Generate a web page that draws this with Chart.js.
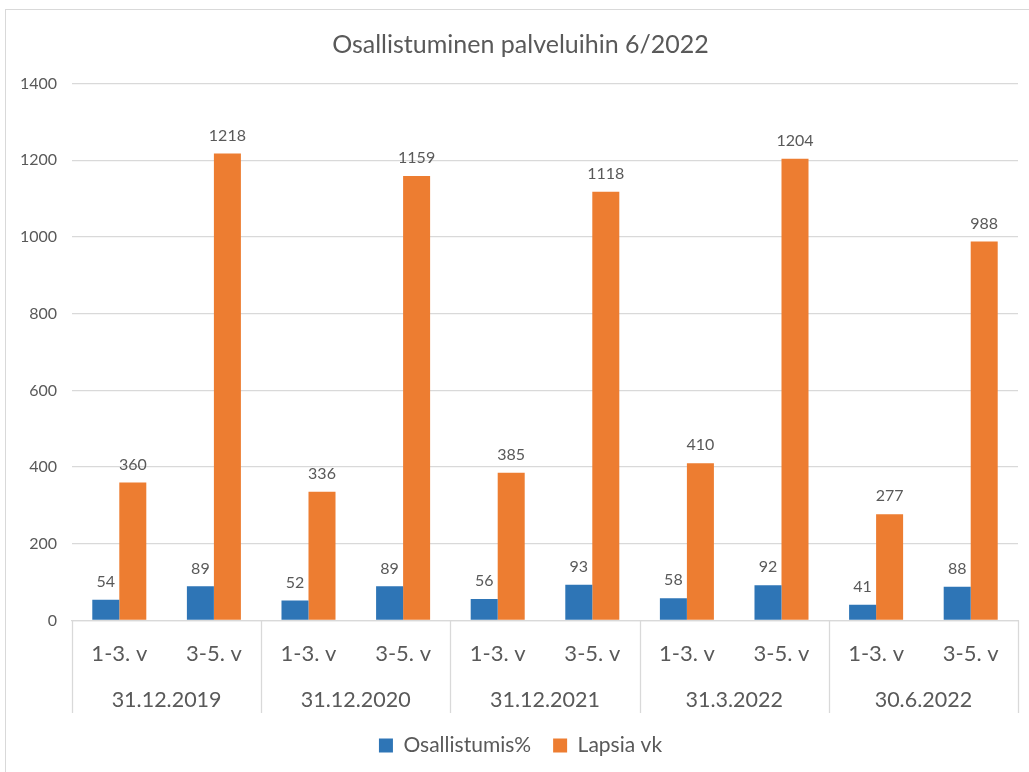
<!DOCTYPE html>
<html>
<head>
<meta charset="utf-8">
<script src="https://cdn.jsdelivr.net/npm/chart.js@4/dist/chart.umd.min.js"></script>
<style>
  html, body { margin: 0; padding: 0; background: #ffffff; }
  #wrap { position: relative; width: 1029px; height: 772px; overflow: hidden; }
  #frame { position: absolute; left: 5px; top: 9px; width: 1100px; height: 900px;
           border-left: 1.5px solid #d9d9d9; border-top: 1.5px solid #d9d9d9; pointer-events: none; }
  canvas { position: absolute; left: 0; top: 0; }
</style>
</head>
<body>
<div id="wrap">
  <canvas id="c" width="1029" height="772"></canvas>
  <div id="frame"></div>
</div>
<script>
const chartTitle = 'Osallistuminen palveluihin 6/2022';
const groups = ['31.12.2019', '31.12.2020', '31.12.2021', '31.3.2022', '30.6.2022'];
const ageGroups = ['1-3. v', '3-5. v'];
const seriesNames = ['Osallistumis%', 'Lapsia vk'];
const osallistumis = [54, 89, 52, 89, 56, 93, 58, 92, 41, 88];
const lapsiaVk = [360, 1218, 336, 1159, 385, 1118, 410, 1204, 277, 988];
const yTicks = [0, 200, 400, 600, 800, 1000, 1200, 1400];

const categories = [];
groups.forEach(() => ageGroups.forEach(a => categories.push(a)));

const FONT = 'Lato, "Open Sans", sans-serif';
const TEXT = '#595959';
const GRID = '#d9d9d9';

const dataLabels = {
  id: 'dataLabels',
  afterDatasetsDraw(chart) {
    const ctx = chart.ctx;
    ctx.save();
    ctx.font = '16px ' + FONT;
    ctx.fillStyle = TEXT;
    ctx.textAlign = 'center';
    ctx.textBaseline = 'middle';
    chart.data.datasets.forEach((ds, di) => {
      chart.getDatasetMeta(di).data.forEach((bar, i) => {
        ctx.fillText(String(ds.data[i]), bar.x, bar.y - 18);
      });
    });
    ctx.restore();
  }
};

const groupSeparators = {
  id: 'groupSeparators',
  afterDraw(chart) {
    const x = chart.scales.x, x2 = chart.scales.x2;
    const ctx = chart.ctx;
    ctx.save();
    ctx.strokeStyle = GRID;
    ctx.lineWidth = 1.3;
    const n = groups.length;
    for (let i = 0; i <= n; i++) {
      const px = Math.round(x2.left + i * x2.width / n) + 0.5;
      ctx.beginPath();
      ctx.moveTo(px, x.top);
      ctx.lineTo(px, x2.bottom);
      ctx.stroke();
    }
    ctx.restore();
  }
};

new Chart(document.getElementById('c'), {
  type: 'bar',
  data: {
    labels: categories,
    datasets: [
      { label: seriesNames[0], data: osallistumis, backgroundColor: '#2E75B6', borderWidth: 0,
        categoryPercentage: 0.571, barPercentage: 1.0 },
      { label: seriesNames[1], data: lapsiaVk, backgroundColor: '#ED7D31', borderWidth: 0,
        categoryPercentage: 0.571, barPercentage: 1.0 }
    ]
  },
  options: {
    responsive: false,
    animation: false,
    layout: { padding: { left: 16, right: 4, top: 0, bottom: 6 } },
    plugins: {
      title: {
        display: true, text: chartTitle, color: TEXT,
        font: { family: FONT, size: 25, weight: 'normal' },
        padding: { top: 30, bottom: 23.6 }
      },
      legend: {
        position: 'bottom',
        labels: {
          color: TEXT, font: { family: FONT, size: 21 },
          boxWidth: 14, boxHeight: 14, padding: 22
        }
      },
      tooltip: { enabled: false }
    },
    scales: {
      x: {
        type: 'category',
        grid: { display: false },
        border: { display: true, color: GRID, width: 1.3 },
        ticks: { color: TEXT, font: { family: FONT, size: 22 }, padding: 12, maxRotation: 0, autoSkip: false },
        afterFit(s) { s.height = 55; }
      },
      x2: {
        type: 'category',
        position: 'bottom',
        labels: groups,
        offset: true,
        grid: { display: false },
        border: { display: false },
        ticks: { color: TEXT, font: { family: FONT, size: 21.5 }, padding: 4, maxRotation: 0, autoSkip: false },
        afterFit(s) { s.height = 37.5; }
      },
      y: {
        min: 0, max: 1400,
        afterBuildTicks(s) { s.ticks = yTicks.map(v => ({ value: v })); },
        grid: { color: GRID, lineWidth: 1.3, drawTicks: false },
        border: { display: false },
        ticks: { color: TEXT, font: { family: FONT, size: 16 }, padding: 15,
                 callback: (v) => String(v) },
        afterFit(s) { s.width = 56; }
      },
      yPad: {
        type: 'linear',
        position: 'right',
        min: 0, max: 1400,
        grid: { display: false },
        border: { display: false },
        ticks: { display: false },
        afterFit(s) { s.width = 7; }
      }
    }
  },
  plugins: [dataLabels, groupSeparators]
});
</script>
</body>
</html>
